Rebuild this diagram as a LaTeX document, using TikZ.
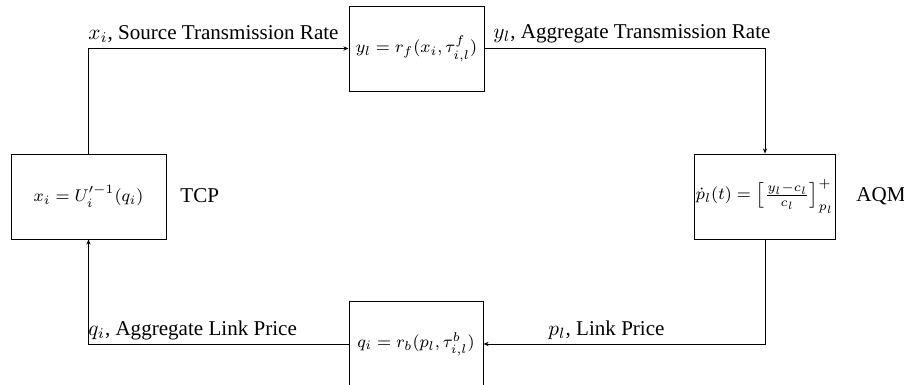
\documentclass[tikz,border=0pt]{standalone}
\usepackage[no-math]{fontspec}
\setmainfont{Liberation Serif}
\usetikzlibrary{arrows.meta}
\begin{document}
\begin{tikzpicture}[x=0.47pt,y=-0.47pt,
  blockbox/.style={draw, line width=0.45pt, minimum height=39.95pt, inner sep=0pt, font=\fontsize{8}{9.6}\selectfont},
  lbl/.style={inner sep=0pt, anchor=west, font=\fontsize{9.9}{12}\selectfont},
  conn/.style={line width=0.4pt, -{Stealth[length=2.4pt,width=2pt]}}]
\useasboundingbox (0,0) rectangle (904,385);
\node[blockbox, minimum width=72.85pt] (tcp) at (88.5,196.5) {$x_i = U_i'^{-1}(q_i)$};
\node[blockbox, minimum width=63.45pt] (fwd) at (416.5,48.5) {$y_l = r_f(x_i, \tau^f_{i,l})$};
\node[blockbox, minimum width=66.7pt] (aqm) at (765,196.5) {$\dot p_l(t) = \left[\frac{y_l - c_l}{c_l}\right]^+_{p_l}$};
\node[blockbox, minimum width=63pt] (bwd) at (416,344) {$q_i = r_b(p_l, \tau^b_{i,l})$};
\node[lbl] (tcplbl) at (180,196) {TCP};
\node[lbl] (aqmlbl) at (856,196) {AQM};
\node[lbl] (l1) at (88,34) {$x_i$, Source Transmission Rate};
\node[lbl] (l2) at (493,34) {$y_l$, Aggregate Transmission Rate};
\node[lbl] (l3) at (88,330) {$q_i$, Aggregate Link Price};
\node[lbl] (l4) at (548,330) {$p_l$, Link Price};
\draw[conn] (tcp.north) |- (fwd.west);
\draw[conn] (fwd.east) -| (aqm.north);
\draw[conn] (aqm.south) |- (bwd.east);
\draw[conn] (bwd.west) -| (tcp.south);
\end{tikzpicture}
\end{document}
